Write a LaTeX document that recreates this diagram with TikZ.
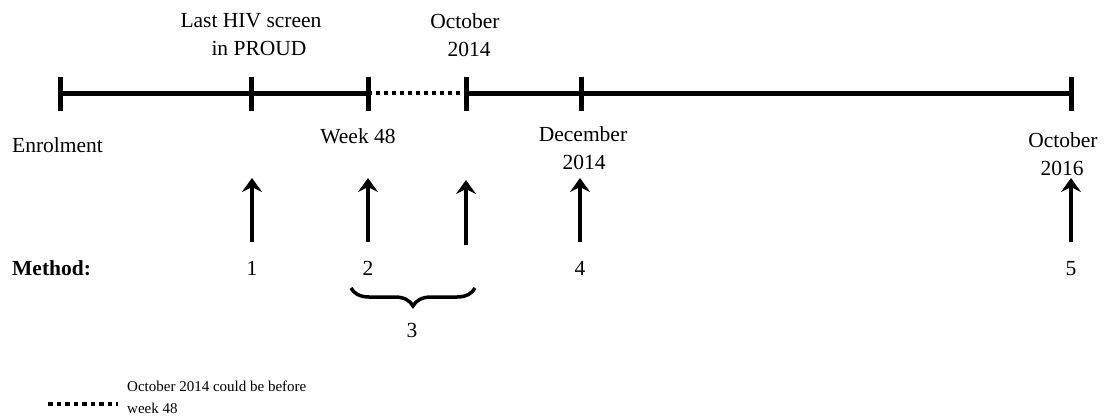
\documentclass[tikz,border=0pt]{standalone}
\usepackage{fontspec}
\setmainfont{Liberation Serif}
\usetikzlibrary{arrows.meta,decorations.pathreplacing}
\begin{document}
\begin{tikzpicture}[x=1pt,y=-1pt,
  tl/.style={line width=5pt},
  tickline/.style={line width=5pt},
  dots/.style={line width=4.5pt, dash pattern=on 4pt off 4pt},
  uparrow/.style={line width=3.5pt, -{Stealth[length=14pt,width=20pt,inset=5pt]}},
  lbl/.style={font=\fontsize{21.5}{24}\selectfont, inner sep=0pt, anchor=base},
  lblw/.style={lbl, anchor=base west},
  legtxt/.style={font=\fontsize{15}{18}\selectfont, inner sep=0pt, anchor=base west},
  bracestyle/.style={line width=3.5pt, decorate, decoration={brace, mirror, amplitude=18pt}},
  legdots/.style={line width=4.5pt, dash pattern=on 4.5pt off 4pt}
]
\useasboundingbox (0,0) rectangle (1109,416);

% timeline points
\coordinate (a) at (60,93);
\coordinate (b) at (251,93);
\coordinate (c) at (368,93);
\coordinate (d) at (466,93);
\coordinate (e) at (581,93);
\coordinate (f) at (1071,93);

\draw[tl] (a) -- (c);
\draw[dots] (c) -- (d);
\draw[tl] (d) -- (f);

\foreach \n/\x in {a/60,b/251,c/368,d/466,e/581,f/1071}{
  \coordinate (\n top) at (\x,77);
  \coordinate (\n bot) at (\x,111);
  \draw[tickline] (\n top) -- (\n bot);
}

% labels
\node[lbl] (lastA) at (251,27) {Last HIV screen};
\node[lbl] (lastB) at (259,55) {in PROUD};
\node[lbl] (octA) at (465,28) {October};
\node[lbl] (octB) at (469,56) {2014};
\node[lblw] (enrol) at (12,152) {Enrolment};
\node[lbl] (week) at (358,143) {Week 48};
\node[lbl] (decA) at (583,141) {December};
\node[lbl] (decB) at (584,169) {2014};
\node[lbl] (oct2A) at (1063,147) {October};
\node[lbl] (oct2B) at (1062,175) {2016};

% arrows
\foreach \n/\x/\t/\bt in {p1/252/178/242, p2/368/178/242, p3/466/180/245, p4/580/178/242, p5/1071/178/242}{
  \coordinate (\n s) at (\x,\bt);
  \coordinate (\n e) at (\x,\t);
  \draw[uparrow] (\n s) -- (\n e);
}

% method row
\node[lblw, font=\fontsize{21.5}{24}\selectfont\bfseries] (method) at (12,275) {Method:};
\node[lbl] (m1) at (252,275) {1};
\node[lbl] (m2) at (368,275) {2};
\node[lbl] (m4) at (580,275) {4};
\node[lbl] (m5) at (1071,275) {5};

% brace
\coordinate (brL) at (351,288);
\coordinate (brR) at (475,288);
\draw[bracestyle] (brL) -- (brR);
\node[lbl] (m3) at (412,337) {3};

% legend
\coordinate (lgL) at (48,404);
\coordinate (lgR) at (118,404);
\draw[legdots] (lgL) -- (lgR);
\node[legtxt] (legA) at (127,391) {October 2014 could be before};
\node[legtxt] (legB) at (127,413) {week 48};
\end{tikzpicture}
\end{document}
